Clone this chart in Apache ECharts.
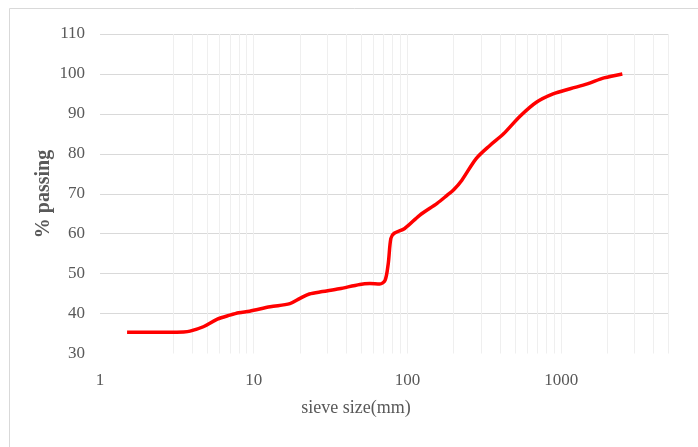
<!DOCTYPE html>
<html>
<head>
<meta charset="utf-8">
<script src="https://cdn.jsdelivr.net/npm/echarts@6/dist/echarts.min.js"></script>
<style>
html,body{margin:0;padding:0;background:#fff;}
#chart{width:698px;height:447px;}
</style>
</head>
<body>
<div id="chart"></div>
<script>
// Sieve sizes (mm) and cumulative % passing
var sieveSize = [1.5, 2, 2.85, 3.5, 3.85, 4.7, 5.8, 7, 8, 9.4, 12.8, 17.2, 20, 23, 28, 36, 49, 57, 66, 71.5, 75, 78, 82, 96, 120, 156, 181, 200, 226, 280, 344, 422, 540, 690, 886, 1145, 1480, 1900, 2500];
var passing   = [35.3, 35.3, 35.3, 35.4, 35.6, 36.7, 38.6, 39.6, 40.2, 40.6, 41.7, 42.5, 43.8, 44.9, 45.5, 46.2, 47.3, 47.5, 47.4, 48.3, 52.5, 58.8, 60.1, 61.3, 64.6, 67.6, 69.6, 71.0, 73.4, 78.8, 82.1, 85.0, 89.4, 92.9, 95.0, 96.3, 97.5, 99.0, 100];

// Axis settings
var xMin = 1, xMax = 5000;
var xTickLabels = [1, 10, 100, 1000];
var yMin = 30, yMax = 110, yStep = 10;
// Vertical (minor) gridline positions on the log axis
var xGridValues = [3, 4, 5, 6, 7, 8, 9, 10, 20, 30, 40, 50, 60, 70, 80, 90, 100, 200, 300, 400, 500, 600, 700, 800, 900, 1000, 2000, 3000, 4000, 5000];

var seriesData = sieveSize.map(function (s, i) { return [s, passing[i]]; });

var chart = echarts.init(document.getElementById('chart'), null, {renderer: 'canvas'});
var font = '"Liberation Serif", "Times New Roman", serif';

chart.setOption({
  animation: false,
  backgroundColor: '#ffffff',
  grid: {left: 100, right: 29.4, top: 34, bottom: 93.5, containLabel: false},
  xAxis: {
    type: 'log',
    logBase: 10,
    min: xMin,
    max: xMax,
    axisLine: {show: false},
    axisTick: {show: false},
    splitLine: {show: false},
    axisLabel: {
      margin: 19,
      color: '#595959',
      fontFamily: font,
      fontSize: 17,
      formatter: function (v) {
        return xTickLabels.indexOf(Math.round(v)) >= 0 ? String(Math.round(v)) : '';
      }
    }
  },
  yAxis: {
    type: 'value',
    min: yMin,
    max: yMax,
    interval: yStep,
    axisLine: {show: false},
    axisTick: {show: false},
    axisLabel: {margin: 15, color: '#595959', fontFamily: font, fontSize: 17},
    splitLine: {show: true, showMinLine: false, lineStyle: {color: '#d9d9d9', width: 1}}
  },
  graphic: [
    {type: 'rect', silent: true, z: -10,
     shape: {x: 9.5, y: 8.5, width: 720, height: 460},
     style: {fill: 'none', stroke: '#d9d9d9', lineWidth: 1}},
    {type: 'text', x: 356, y: 408, silent: true,
     style: {text: 'sieve size(mm)', font: '18px ' + font, fill: '#595959', align: 'center', verticalAlign: 'middle'}},
    {type: 'text', x: 44, y: 194, rotation: Math.PI / 2, silent: true,
     style: {text: '% passing', font: 'bold 20px ' + font, fill: '#595959', align: 'center', verticalAlign: 'middle'}}
  ],
  series: [
    {
      type: 'line',
      data: [],
      silent: true,
      markLine: {
        silent: true,
        symbol: 'none',
        animation: false,
        label: {show: false},
        lineStyle: {color: '#efefef', width: 1, type: 'solid'},
        data: xGridValues.map(function (v) { return {xAxis: v}; })
      }
    },
    {
      type: 'line',
      data: seriesData,
      smooth: 0.3,
      showSymbol: false,
      symbol: 'none',
      lineStyle: {color: '#ff0000', width: 3.5},
      itemStyle: {color: '#ff0000'},
      z: 5
    }
  ]
});
</script>
</body>
</html>
